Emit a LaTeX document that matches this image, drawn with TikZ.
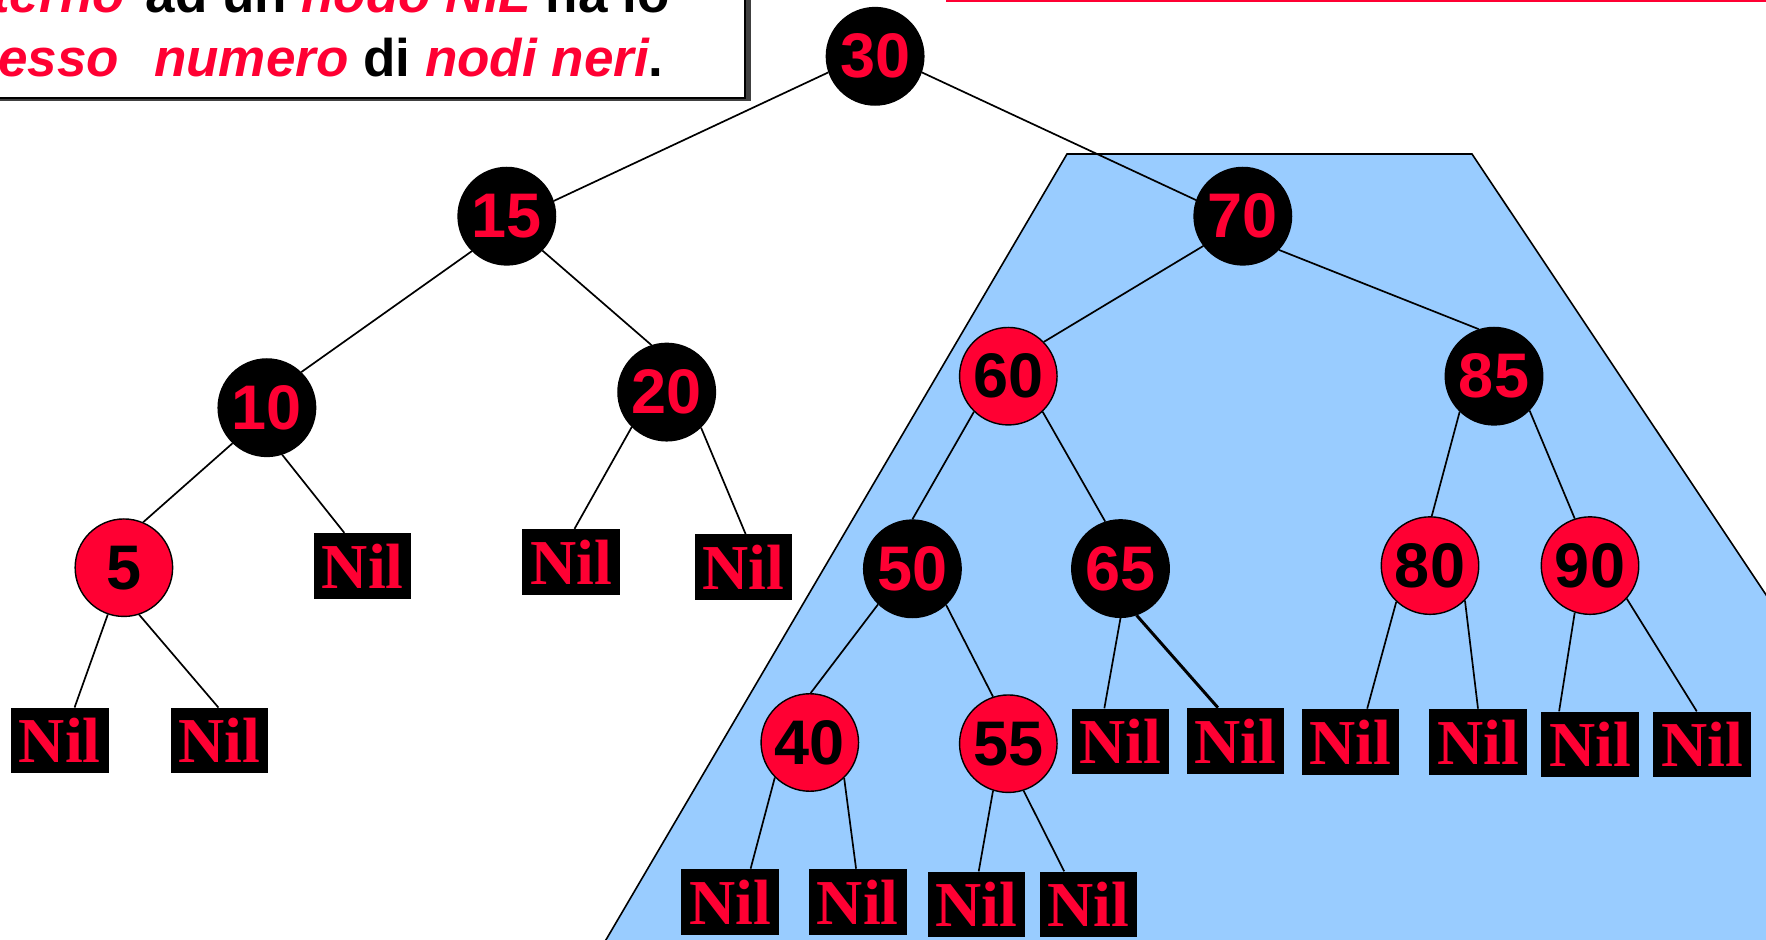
\documentclass[tikz,border=0pt]{standalone}
\usepackage{fontspec}
\setmainfont{Liberation Sans}
\newfontfamily\nilfont{Liberation Serif}
\definecolor{rbred}{HTML}{FF0033}
\definecolor{skyfill}{HTML}{99CCFF}
\begin{document}
\begin{tikzpicture}[x=0.5pt,y=-0.5pt,
  blk/.style={circle,fill=black,draw=black,line width=0.7pt,minimum size=48.75pt,inner sep=0pt,text=rbred,font=\fontsize{31.5}{31.5}\selectfont\bfseries},
  rdn/.style={blk,fill=rbred,text=black},
  nil/.style={rectangle,fill=black,minimum width=48.75pt,minimum height=32.75pt,inner sep=0pt,text=rbred,font=\nilfont\fontsize{32}{32}\selectfont\bfseries},
  link/.style={line width=0.85pt},
  boxtext/.style={anchor=base east,inner sep=0pt,font=\fontsize{26.5}{26.5}\selectfont\bfseries}]
\useasboundingbox (0,0) rectangle (1766,940);
\clip (0,0) rectangle (1766,940);
% blue trapezoid
\draw[fill=skyfill,line width=0.8pt] (1067,154) -- (1472,154) -- (2103,1100) -- (512,1100) -- cycle;
% red rule at top right
\draw[rbred,line width=1.3pt] (946,1.2) -- (1800,1.2);
% text box
\fill[black!75] (-60,-60) rectangle (751,101);
\draw[fill=white,line width=1pt] (-50,-50) rectangle (745,98);
\node[boxtext] (t1) at (670,12.7) {\textcolor{rbred}{\itshape interno}\hspace{3pt} ad un \textcolor{rbred}{\itshape nodo NIL} ha lo};
\node[boxtext] (t2) at (664,76.5) {\textcolor{rbred}{\itshape stesso}\hspace{17.5pt}\textcolor{rbred}{\itshape numero} di \textcolor{rbred}{\itshape nodi neri}.};
% tree nodes
\node[blk] (n30) at (875.1,56.3) {30};
\node[blk] (n15) at (506.8,216.2) {15};
\node[blk] (n70) at (1242.8,216.2) {70};
\node[blk] (n10) at (266.9,407.7) {10};
\node[blk] (n20) at (666.7,392.1) {20};
\node[rdn] (n60) at (1008.3,376.2) {60};
\node[blk] (n85) at (1494,376.2) {85};
\node[rdn] (n5) at (123.9,567.7) {5};
\node[blk] (n50) at (912.4,568.8) {50};
\node[blk] (n65) at (1120.5,568.6) {65};
\node[rdn] (n80) at (1430,565.6) {80};
\node[rdn] (n90) at (1590,565.6) {90};
\node[rdn] (n40) at (809.8,742.5) {40};
\node[rdn] (n55) at (1008.3,743.7) {55};
% NIL leaves
\node[nil] (z1) at (362.7,566) {Nil};
\node[nil] (z2) at (571,562) {Nil};
\node[nil] (z3) at (743.3,567.2) {Nil};
\node[nil] (z4) at (59.8,740.7) {Nil};
\node[nil] (z5) at (219.6,740.7) {Nil};
\node[nil] (z6) at (1120.5,741.5) {Nil};
\node[nil] (z7) at (1235.5,740.8) {Nil};
\node[nil] (z8) at (1350.3,741.8) {Nil};
\node[nil] (z9) at (1478,741.8) {Nil};
\node[nil] (z10) at (1590,744.5) {Nil};
\node[nil] (z11) at (1702,744.5) {Nil};
\node[nil] (z12) at (729.9,901.8) {Nil};
\node[nil] (z13) at (857.8,901.8) {Nil};
\node[nil] (z14) at (976.4,904.5) {Nil};
\node[nil] (z15) at (1088.3,904.5) {Nil};
% connectors
\draw[link] (n30.199) -- (n15.18);
\draw[link] (n30.341) -- (n70.161);
\draw[link] (n15.225) -- (n10.46);
\draw[link] (n15.316) -- (n20.108);
\draw[link] (n10.226) -- (n5.67);
\draw[link] (n10.288) -- (z1.119);
\draw[link] (n20.225) -- (z2.84);
\draw[link] (n20.314) -- (z3.86);
\draw[link] (n70.217) -- (n60.44);
\draw[link] (n70.317) -- (n85.108);
\draw[link] (n60.226) -- (n50.90);
\draw[link] (n60.314) -- (n65.108);
\draw[link] (n85.226) -- (n80.88);
\draw[link] (n85.316) -- (n90.108);
\draw[link] (n5.251) -- (z4.66);
\draw[link] (n5.288) -- (z5.92);
\draw[link] (n50.226) -- (n40.89);
\draw[link] (n50.313) -- (n55.108);
\draw[link] (n65.270) -- (z6.116);
\draw[link,line width=1.5pt] (n65.289) -- (z7.118);
\draw[link] (n80.227) -- (z8.63);
\draw[link] (n80.315) -- (z9.90);
\draw[link] (n90.252) -- (z10.133);
\draw[link] (n90.318) -- (z11.99);
\draw[link] (n40.225) -- (z12.58);
\draw[link] (n40.314) -- (z13.93);
\draw[link] (n55.252) -- (z14.86);
\draw[link] (n55.288) -- (z15.126);
\end{tikzpicture}
\end{document}
